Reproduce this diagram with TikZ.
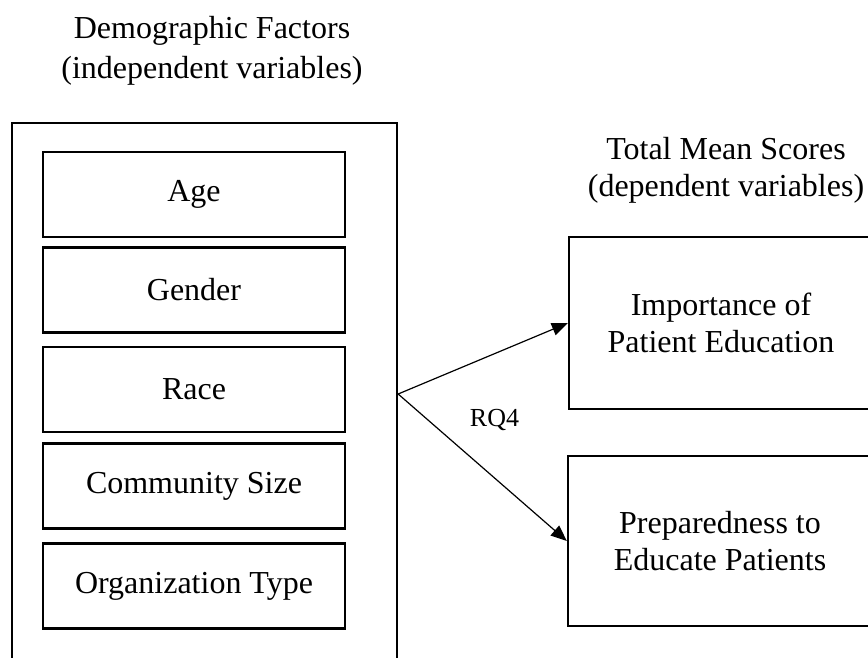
\documentclass[tikz,border=0pt]{standalone}
\usepackage{fontspec}
\setmainfont{Liberation Serif}
\usetikzlibrary{arrows.meta}
\begin{document}
\begin{tikzpicture}[x=1pt,y=-1pt,
  box/.style={draw, line width=2.3pt, inner sep=0pt, align=center},
  bigtext/.style={font=\fontsize{32}{37}\selectfont},
  factor/.style={box, bigtext, minimum width=302pt, minimum height=85pt},
  outcome/.style={box, bigtext, minimum width=304pt},
  link/.style={line width=1.2pt, -{Triangle[length=16pt,width=13pt]}}
]
\fill[white] (0,0) rectangle (868,658);
\useasboundingbox (0,0) rectangle (868,658);

% column titles
\node[align=center, inner sep=0pt, font=\fontsize{32}{40}\selectfont] (demotitle) at (212,51)
  {Demographic Factors\\(independent variables)};
\node[align=center, inner sep=0pt, font=\fontsize{32}{37}\selectfont] (scoretitle) at (726,170)
  {Total Mean Scores\\(dependent variables)};

% independent variables
\node[box, minimum width=385pt, minimum height=542pt] (demo) at (204.5,394) {};
\node[factor] (age)  at (194,194.5) {Age};
\node[factor] (gender) at (194,290) {Gender};
\node[factor] (race) at (194,389.5) {Race};
\node[factor] (community) at (194,486) {Community Size};
\node[factor] (orgtype) at (194,586) {Organization Type};

% dependent variables
\node[outcome, minimum height=172pt] (importance) at (721,323)
  {Importance of\\Patient Education};
\node[outcome, minimum height=170pt] (prep) at (720,541)
  {Preparedness to\\Educate Patients};

% research question links
\draw[link] (demo.east) -- (importance.west);
\draw[link] (demo.east) -- (prep.west);
\node[anchor=base, inner sep=0pt, font=\fontsize{26}{30}\selectfont] (rq) at (494.5,426) {RQ4};
\end{tikzpicture}
\end{document}
